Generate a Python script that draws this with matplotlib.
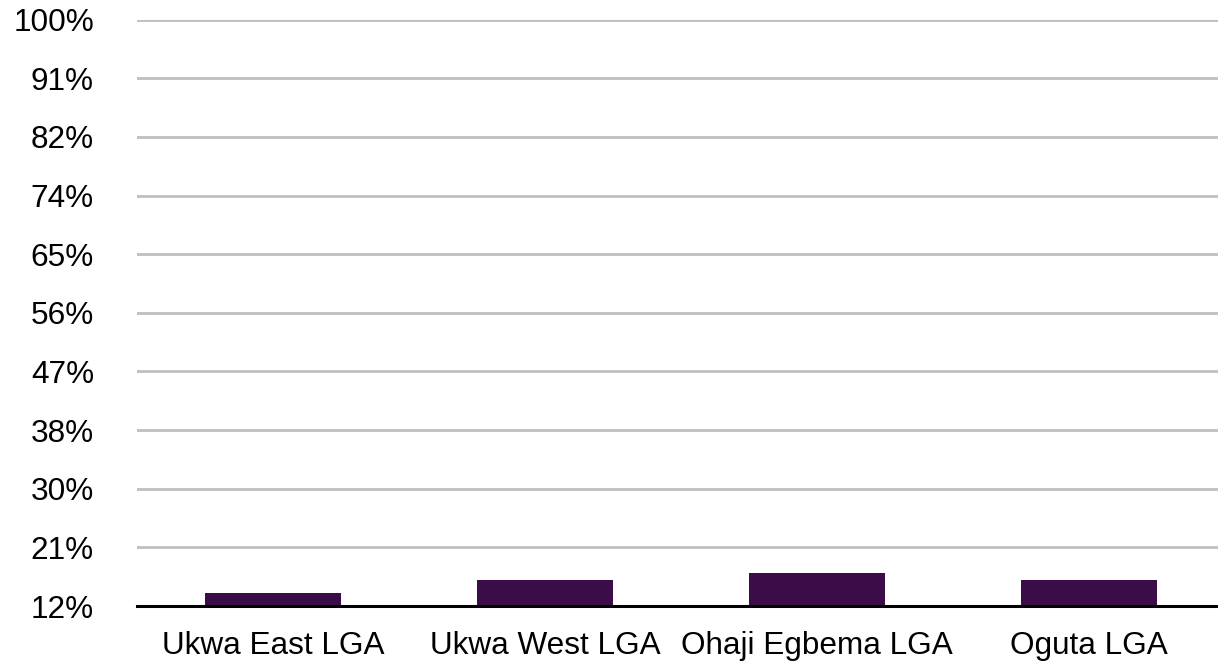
import numpy as np
import matplotlib.pyplot as plt

plt.rcParams['font.family'] = ['Liberation Sans', 'DejaVu Sans']

# data
regions = ['Ukwa East LGA', 'Ukwa West LGA', 'Ohaji Egbema LGA', 'Oguta LGA']
values = [13.95, 15.9, 17.0, 15.9]
ymin, ymax = 12, 100
yticks = np.linspace(ymin, ymax, 11)

fig = plt.figure(figsize=(12.18, 6.69), dpi=100)
ax = fig.add_axes([137/1218, 1 - 606/669, 1088/1218, (606 - 19.7)/669])

x = np.arange(len(regions))
ax.bar(x, [v - ymin for v in values], bottom=ymin, width=0.5, color='#3C0C49', zorder=3)

ax.set_xlim(-0.5, len(regions) - 0.5)
ax.set_ylim(ymin, ymax)
ax.set_yticks(yticks)
ax.set_yticklabels(['%d%%' % round(t) for t in yticks])
ax.set_xticks(x)
ax.set_xticklabels(regions)

ax.yaxis.grid(True, color='#BFBFBF', linewidth=2, zorder=0)
ax.tick_params(axis='y', length=0, pad=31, labelsize=22.7)
ax.tick_params(axis='x', length=0, pad=18, labelsize=22.7)
for s in ['top', 'right', 'left']:
    ax.spines[s].set_visible(False)
ax.spines['bottom'].set_linewidth(2.2)
ax.spines['bottom'].set_color('black')
ax.spines['bottom'].set_zorder(4)

fig.savefig('out.png', dpi=100)
